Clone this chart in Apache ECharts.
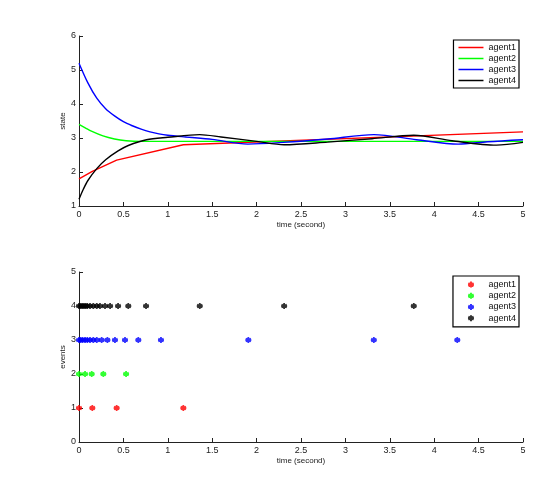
<!DOCTYPE html>
<html><head><meta charset="utf-8">
<script src="https://cdn.jsdelivr.net/npm/echarts@6/dist/echarts.min.js"></script>
<style>html,body{margin:0;padding:0;background:#fff}#c{width:533px;height:484px}</style>
</head><body><div id="c"></div>
<script>
// ---- data ----
const names = ['agent1','agent2','agent3','agent4'];
const colors = ['#ff0000','#00ff00','#0000ff','#000000'];
const xTicks = [0,0.5,1,1.5,2,2.5,3,3.5,4,4.5,5];

// state trajectories [time, value]
const state1 = [[0,1.8],[0.15,2.02],[0.424,2.35],[1.175,2.8],[5,3.18]];
const state2 = [[0,3.4],[0.07,3.3],[0.14,3.2],[0.27,3.06],[0.4,2.97],[0.53,2.92],[0.7,2.9],[1.0,2.9],[2.0,2.9],[3.0,2.9],[4.0,2.9],[5,2.9]];
const state3 = [[0,5.2],[0.1,4.62],[0.2,4.17],[0.3,3.86],[0.4,3.65],[0.5,3.48],[0.6,3.36],[0.7,3.26],[0.8,3.18],[0.9,3.12],[1.0,3.08],[1.2,3.03],[1.5,2.96],[1.9,2.82],[2.3,2.87],[2.8,2.97],[3.32,3.1],[3.8,2.95],[4.27,2.82],[4.6,2.89],[5,2.95]];
const state4 = [[0,1.2],[0.05,1.5],[0.1,1.75],[0.2,2.1],[0.3,2.36],[0.44,2.62],[0.555,2.78],[0.76,2.95],[1.0,3.02],[1.36,3.1],[1.6,3.03],[2.0,2.9],[2.31,2.8],[2.8,2.88],[3.3,2.98],[3.77,3.08],[4.2,2.92],[4.7,2.79],[5,2.87]];

// event times per agent
const events1 = [0,0.15,0.424,1.175];
const events2 = [0,0.068,0.143,0.274,0.53];
const events3 = [0,0.019,0.041,0.068,0.094,0.124,0.161,0.2,0.255,0.32,0.405,0.518,0.668,0.923,1.907,3.32,4.26];
const events4 = [0,0.019,0.037,0.056,0.075,0.094,0.124,0.161,0.2,0.236,0.293,0.35,0.44,0.555,0.755,1.36,2.31,3.77];
const eventLevels = [1,2,3,4];

const states = [state1,state2,state3,state4];
const events = [events1,events2,events3,events4];

const FONT = 'Liberation Sans';
const star = 'path://M0,-10L0,10M-8.66,-5L8.66,5M-8.66,5L8.66,-5M-10,0L10,0';

function xAxis(gi){
  return {type:'value', gridIndex:gi, min:0, max:5, interval:0.5,
    name:'time (second)', nameLocation:'middle', nameGap:15,
    nameTextStyle:{fontFamily:FONT,fontSize:8,color:'#222'},
    axisLine:{lineStyle:{color:'#222',width:1}},
    axisTick:{inside:true,length:4,lineStyle:{color:'#222'}},
    axisLabel:{fontFamily:FONT,fontSize:9,color:'#222',margin:4,
      formatter:v=>String(v)},
    splitLine:{show:false}};
}
function yAxis(gi,min,max,name){
  return {type:'value', gridIndex:gi, min:min, max:max, interval:1,
    name:name, nameLocation:'middle', nameGap:12, nameRotate:90, nameMoveOverlap:false,
    nameTextStyle:{fontFamily:FONT,fontSize:8,color:'#222'},
    axisLine:{show:true,lineStyle:{color:'#222',width:1}},
    axisTick:{show:true,inside:true,length:4,lineStyle:{color:'#222'}},
    axisLabel:{fontFamily:FONT,fontSize:9,color:'#222',margin:3},
    splitLine:{show:false}};
}

const series = [];
names.forEach((n,i)=>{
  series.push({name:n,type:'line',xAxisIndex:0,yAxisIndex:0,data:states[i],
    showSymbol:false,symbol:'none',smooth:i===0?false:0.3,
    lineStyle:{color:colors[i],width:1.4},itemStyle:{color:colors[i]},z:2+(i===3?1:0)});
});
names.forEach((n,i)=>{
  series.push({name:n+' ',type:'scatter',xAxisIndex:1,yAxisIndex:1,
    data:events[i].map(t=>[t,eventLevels[i]]),
    symbol:star,symbolSize:6,
    itemStyle:{color:colors[i],borderColor:colors[i],borderWidth:1.8}});
});

const chart = echarts.init(document.getElementById('c'),null,{renderer:'canvas'});
chart.setOption({
  animation:false,
  backgroundColor:'#fff',
  grid:[{left:79,right:10,top:36,bottom:278},{left:79,right:10,top:272,bottom:42}],
  xAxis:[xAxis(0),xAxis(1)],
  yAxis:[yAxis(0,1,6,'state'),yAxis(1,0,5,'events')],
  legend:[
    {data:names, orient:'vertical', right:14, top:40,
     icon:'rect', itemWidth:25,itemHeight:1.5,itemGap:0,padding:[2,3,2,5],
     borderColor:'#000',borderWidth:1.2,backgroundColor:'#fff',
     textStyle:{fontFamily:FONT,fontSize:9,color:'#111',lineHeight:11},
     selectedMode:false},
    {data:names.map(n=>n+' '), orient:'vertical', right:14, top:276,
     itemWidth:25,itemHeight:6,itemGap:0,padding:[3,3,3,14],
     borderColor:'#000',borderWidth:1.2,backgroundColor:'#fff',
     formatter:n=>n.trim(),
     textStyle:{fontFamily:FONT,fontSize:9,color:'#111',lineHeight:11.2},
     selectedMode:false}
  ],
  series:series
});
</script></body></html>
